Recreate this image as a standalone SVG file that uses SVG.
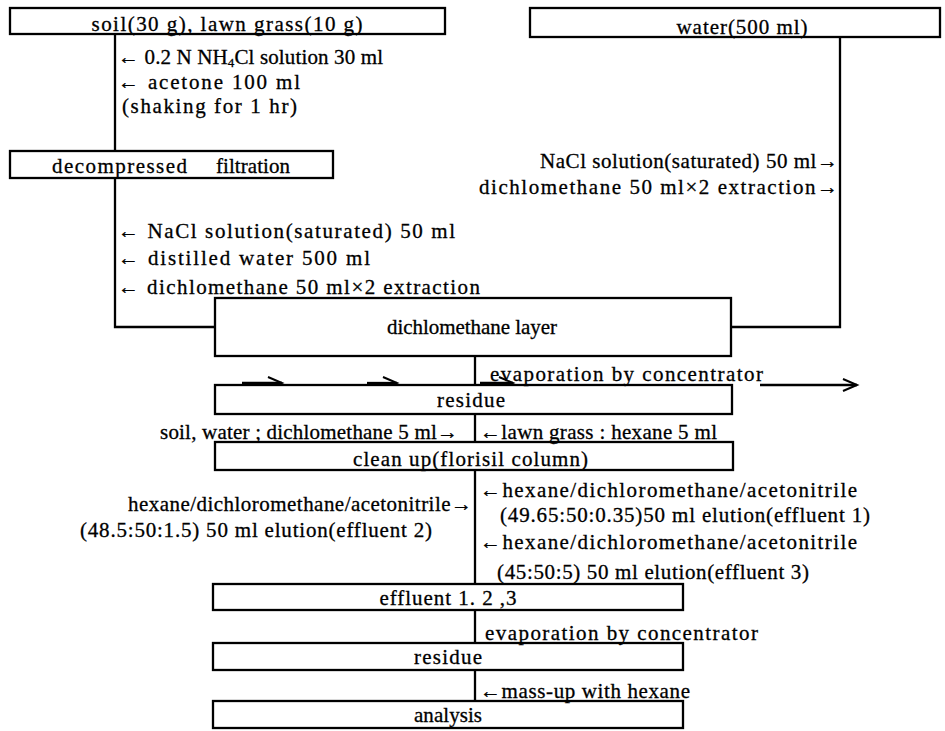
<svg xmlns="http://www.w3.org/2000/svg" width="945" height="731" viewBox="0 0 945 731">
<style>
  .t { font-family: "Liberation Serif", "Times New Roman", serif; font-size: 21px; fill: #000; stroke: #000; stroke-width: 0.3; }
  .bx { fill: #fff; stroke: #000; stroke-width: 2.3; }
  .ln { fill: none; stroke: #000; stroke-width: 2.3; }
  .ar { fill: none; stroke: #000; stroke-width: 2.3; marker-end: url(#chev); }
</style>
<defs>
  <marker id="chev" markerUnits="userSpaceOnUse" markerWidth="18" markerHeight="14" refX="15" refY="7" orient="auto" overflow="visible">
    <path d="M1,1 L15,7 L1,13" fill="none" stroke="#000" stroke-width="2"/>
  </marker>
</defs>
<rect width="945" height="731" fill="#fff"/>

<g id="connectors">
  <path class="ln" d="M115,34 V151"/>
  <path class="ln" d="M115,178 V327 H215"/>
  <path class="ln" d="M840,37 V327 H731"/>
  <path class="ln" d="M475,356 V385"/>
  <path class="ln" d="M475,414 V442"/>
  <path class="ln" d="M475,470 V584"/>
  <path class="ln" d="M475,610 V643"/>
  <path class="ln" d="M475,670 V701"/>
  <path class="ar" d="M242,383 H282"/>
  <path class="ar" d="M367,383 H397"/>
  <path class="ar" d="M480,383 H513"/>
  <path class="ar" d="M760,385 H857"/>
</g>

<g id="n-soil">
  <rect class="bx" x="10" y="8" width="435" height="26"/>
  <text class="t" x="227" y="31" text-anchor="middle" textLength="271" lengthAdjust="spacing">soil(30 g), lawn grass(10 g)</text>
</g>
<g id="n-water">
  <rect class="bx" x="530" y="8" width="410" height="29"/>
  <text class="t" x="742" y="34" text-anchor="middle" textLength="131" lengthAdjust="spacing">water(500 ml)</text>
</g>
<g id="n-filtration">
  <rect class="bx" x="10" y="151" width="323" height="27"/>
  <text class="t" x="52" y="173" textLength="135" lengthAdjust="spacing">decompressed</text>
  <text class="t" x="216" y="173" textLength="74" lengthAdjust="spacing">filtration</text>
</g>
<g id="n-layer">
  <rect class="bx" x="215" y="298" width="516" height="58"/>
  <text class="t" x="472" y="334" text-anchor="middle" textLength="170" lengthAdjust="spacing">dichlomethane layer</text>
</g>
<g id="n-residue1">
  <rect class="bx" x="215" y="385" width="517" height="29"/>
  <text class="t" x="471" y="407" text-anchor="middle" textLength="68" lengthAdjust="spacing">residue</text>
</g>
<g id="n-cleanup">
  <rect class="bx" x="215" y="442" width="518" height="28"/>
  <text class="t" x="353" y="466" textLength="235" lengthAdjust="spacing">clean up(florisil column)</text>
</g>
<g id="n-effluent">
  <rect class="bx" x="213" y="584" width="470" height="26"/>
  <text class="t" x="448" y="605" text-anchor="middle" textLength="137" lengthAdjust="spacing">effluent 1. 2 ,3</text>
</g>
<g id="n-residue2">
  <rect class="bx" x="213" y="643" width="470" height="27"/>
  <text class="t" x="448" y="664" text-anchor="middle" textLength="68" lengthAdjust="spacing">residue</text>
</g>
<g id="n-analysis">
  <rect class="bx" x="213" y="701" width="470" height="27"/>
  <text class="t" x="448" y="722" text-anchor="middle" textLength="68" lengthAdjust="spacing">analysis</text>
</g>

<g id="labels">
  <text class="t" x="118" y="64" textLength="265" lengthAdjust="spacing">← 0.2 N NH<tspan font-size="13" dy="3">4</tspan><tspan dy="-3">Cl solution 30 ml</tspan></text>
  <text class="t" x="118" y="89" textLength="182" lengthAdjust="spacing">← acetone 100 ml</text>
  <text class="t" x="122" y="113" textLength="175" lengthAdjust="spacing">(shaking for 1 hr)</text>
  <text class="t" x="540" y="168" textLength="298" lengthAdjust="spacing">NaCl solution(saturated) 50 ml→</text>
  <text class="t" x="479" y="194" textLength="359" lengthAdjust="spacing">dichlomethane 50 ml×2 extraction→</text>
  <text class="t" x="118" y="238" textLength="337" lengthAdjust="spacing">← NaCl solution(saturated) 50 ml</text>
  <text class="t" x="118" y="265" textLength="252" lengthAdjust="spacing">← distilled water 500 ml</text>
  <text class="t" x="118" y="294" textLength="362" lengthAdjust="spacing">← dichlomethane 50 ml×2 extraction</text>
  <text class="t" x="490" y="381" textLength="273" lengthAdjust="spacing">evaporation by concentrator</text>
  <text class="t" x="160" y="439" textLength="298" lengthAdjust="spacing">soil, water ; dichlomethane 5 ml→</text>
  <text class="t" x="480" y="439" textLength="237" lengthAdjust="spacing">←lawn grass : hexane 5 ml</text>
  <text class="t" x="480" y="497" textLength="377" lengthAdjust="spacing">←hexane/dichloromethane/acetonitrile</text>
  <text class="t" x="500" y="522" textLength="370" lengthAdjust="spacing">(49.65:50:0.35)50 ml elution(effluent 1)</text>
  <text class="t" x="128" y="511" textLength="344" lengthAdjust="spacing">hexane/dichloromethane/acetonitrile→</text>
  <text class="t" x="80" y="537" textLength="352" lengthAdjust="spacing">(48.5:50:1.5) 50 ml elution(effluent 2)</text>
  <text class="t" x="480" y="549" textLength="377" lengthAdjust="spacing">←hexane/dichloromethane/acetonitrile</text>
  <text class="t" x="497" y="579" textLength="312" lengthAdjust="spacing">(45:50:5) 50 ml elution(effluent 3)</text>
  <text class="t" x="485" y="640" textLength="273" lengthAdjust="spacing">evaporation by concentrator</text>
  <text class="t" x="480" y="698" textLength="210" lengthAdjust="spacing">←mass-up with hexane</text>
</g>
</svg>
